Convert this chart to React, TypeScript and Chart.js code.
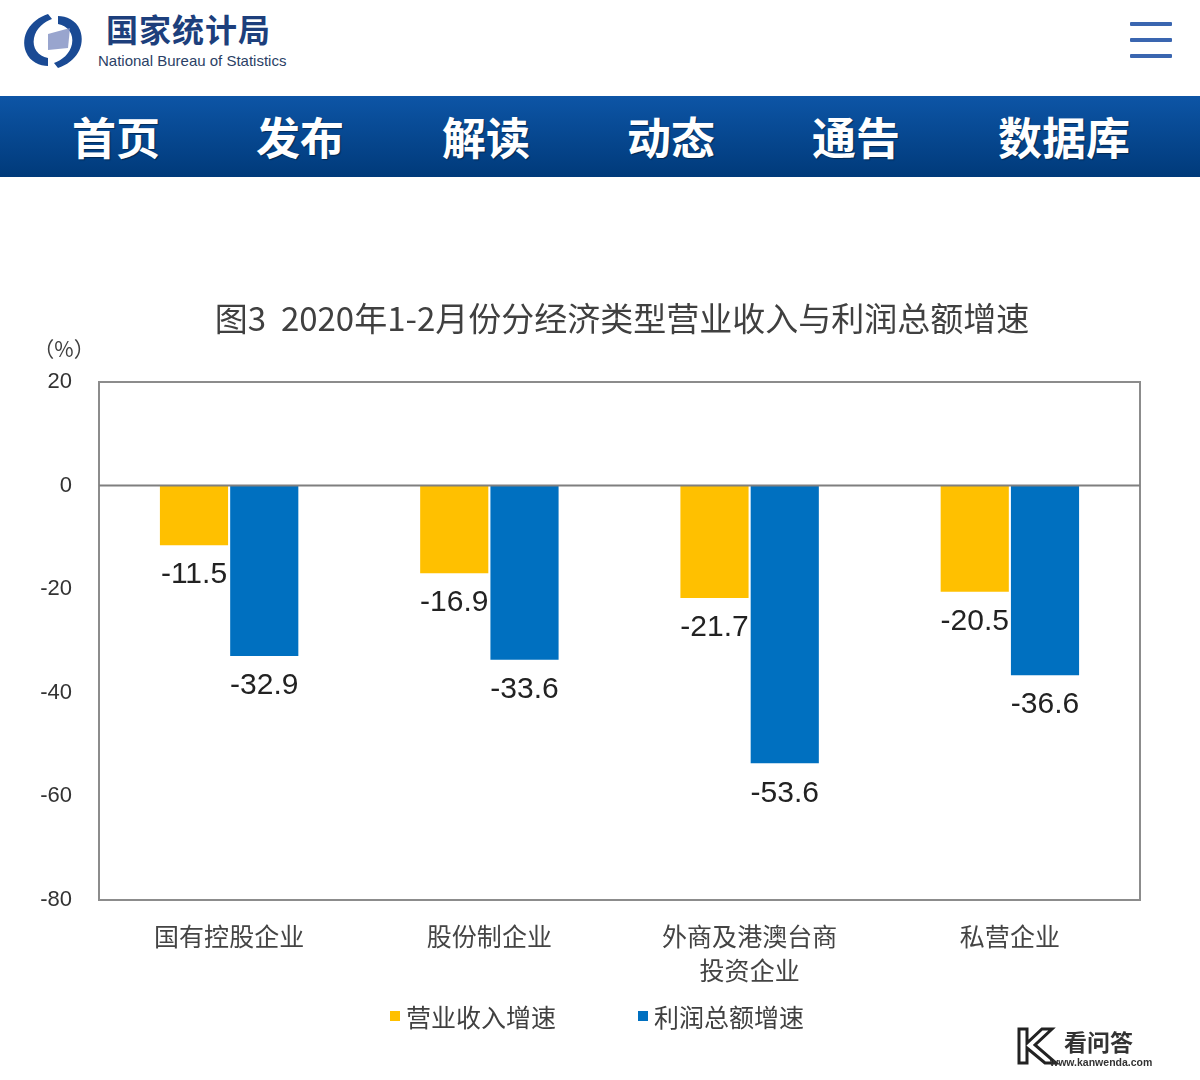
import React, { useEffect, useRef } from "react";
import { Chart, registerables } from "chart.js";

Chart.register(...registerables);

const chartTitle = "图3  2020年1-2月份分经济类型营业收入与利润总额增速";
const unitLabel = "（%）";
const categories: (string | string[])[] = [
  "国有控股企业",
  "股份制企业",
  ["外商及港澳台商", "投资企业"],
  "私营企业",
];
const seriesNames = ["营业收入增速", "利润总额增速"];
const revenueGrowth = [-11.5, -16.9, -21.7, -20.5];
const profitGrowth = [-32.9, -33.6, -53.6, -36.6];
const seriesColors = ["#FFC000", "#0070C0"];
const yMin = -80;
const yMax = 20;
const yStep = 20;
const navItems = ["首页", "发布", "解读", "动态", "通告", "数据库"];
const navCenters = [116, 300, 486, 671, 856, 1064];

const CJK = '"Noto Sans CJK SC", "Noto Sans", sans-serif';
const LAT = '"Liberation Sans", Arial, sans-serif';

const decorPlugin = {
  id: "decor",
  beforeDatasetsDraw(chart: any) {
    const { ctx, chartArea } = chart;
    ctx.save();
    ctx.strokeStyle = "#8c8c8c";
    ctx.lineWidth = 2;
    ctx.strokeRect(chartArea.left, chartArea.top, chartArea.right - chartArea.left, chartArea.bottom - chartArea.top);
    ctx.restore();
  },
  afterDatasetsDraw(chart: any) {
    const { ctx, chartArea, scales } = chart;
    ctx.save();
    // zero line
    const y0 = scales.y.getPixelForValue(0);
    ctx.strokeStyle = "#7f7f7f";
    ctx.lineWidth = 2;
    ctx.beginPath();
    ctx.moveTo(chartArea.left, y0);
    ctx.lineTo(chartArea.right, y0);
    ctx.stroke();
    // data labels
    ctx.fillStyle = "#222";
    ctx.font = `30px ${LAT}`;
    ctx.textAlign = "center";
    ctx.textBaseline = "middle";
    chart.data.datasets.forEach((ds: any, di: number) => {
      const meta = chart.getDatasetMeta(di);
      meta.data.forEach((el: any, i: number) => {
        const v = ds.data[i];
        const y = v < 0 ? el.y + 30 : el.y - 30;
        ctx.fillText(v.toFixed(1), el.x, y);
      });
    });
    // title
    ctx.fillStyle = "#404040";
    ctx.font = `33px ${CJK}`;
    ctx.fillText(chartTitle, 622, 28);
    // unit
    ctx.fillStyle = "#404040";
    ctx.font = `21px ${CJK}`;
    ctx.fillText(unitLabel, 64, 59);
    // legend
    ctx.font = `25px ${CJK}`;
    ctx.textAlign = "left";
    const legendX = [390, 638];
    chart.data.datasets.forEach((ds: any, di: number) => {
      const x = legendX[di];
      ctx.fillStyle = ds.backgroundColor;
      ctx.fillRect(x, 721, 10, 10);
      ctx.fillStyle = "#404040";
      ctx.fillText(ds.label, x + 16, 727);
    });
    ctx.restore();
  },
};

function ChartCanvas() {
  const ref = useRef<HTMLCanvasElement | null>(null);
  useEffect(() => {
    if (!ref.current) return;
    const chart = new Chart(ref.current, {
      type: "bar",
      data: {
        labels: categories,
        datasets: [
          { label: seriesNames[0], data: revenueGrowth, backgroundColor: seriesColors[0], barPercentage: 0.97, categoryPercentage: 0.54 },
          { label: seriesNames[1], data: profitGrowth, backgroundColor: seriesColors[1], barPercentage: 0.97, categoryPercentage: 0.54 },
        ],
      },
      options: {
        animation: false,
        responsive: false,
        devicePixelRatio: 1,
        layout: { padding: { top: 92, right: 60, left: 0, bottom: 0 } },
        plugins: { legend: { display: false }, title: { display: false }, tooltip: { enabled: false } },
        scales: {
          x: {
            grid: { display: false, drawTicks: false },
            border: { display: false },
            ticks: { color: "#444", font: { size: 25, family: CJK, lineHeight: 1.35 }, padding: 20, maxRotation: 0, autoSkip: false },
            afterFit: (s: any) => { s.height = 150; },
          },
          y: {
            min: yMin,
            max: yMax,
            grid: { display: false, drawTicks: false },
            border: { display: false },
            ticks: { stepSize: yStep, color: "#333", font: { size: 22, family: LAT }, padding: 27 },
            afterFit: (s: any) => { s.width = 99; },
          },
        },
      },
      plugins: [decorPlugin],
    });
    return () => chart.destroy();
  }, []);
  return <canvas ref={ref} width={1200} height={760} style={{ position: "absolute", left: 0, top: 290, width: 1200, height: 760 }} />;
}

export default function App() {
  useEffect(() => {
    document.body.style.margin = "0";
  }, []);
  return (
    <div style={{ position: "absolute", left: 0, top: 0, width: 1200, height: 1080, background: "#fff", overflow: "hidden" }}>
      {/* header */}
      <svg width={70} height={70} viewBox="0 0 70 70" style={{ position: "absolute", left: 18, top: 6 }}>
        <path d="M30 8 C12 14 2 30 8 46 C12 56 22 60 30 60 L30 52 C20 50 14 42 16 32 C18 22 26 16 34 13 Z" fill="#1a4a94" />
        <path d="M40 62 C58 56 68 40 62 24 C58 14 48 10 40 10 L40 18 C50 20 56 28 54 38 C52 48 44 54 36 57 Z" fill="#1a4a94" />
        <path d="M30 28 L52 22 L50 42 L30 44 Z" fill="#7f8fc2" opacity={0.8} />
      </svg>
      <div style={{ position: "absolute", left: 106, top: 8, fontFamily: CJK, fontWeight: 700, fontSize: 32, color: "#1d3f7c", lineHeight: "40px", letterSpacing: 1 }}>国家统计局</div>
      <div style={{ position: "absolute", left: 98, top: 51, fontFamily: LAT, fontSize: 15, color: "#2b3f66", lineHeight: "20px" }}>National Bureau of Statistics</div>
      {[24, 40, 56].map((y) => (
        <div key={y} style={{ position: "absolute", left: 1130, top: y - 2, width: 42, height: 4, background: "#3a66b0", borderRadius: 1 }} />
      ))}
      {/* nav */}
      <div style={{ position: "absolute", left: 0, top: 96, width: 1200, height: 81, background: "linear-gradient(#0d55a6, #003a7a)" }}>
        {navItems.map((t, i) => (
          <div key={t} style={{ position: "absolute", left: navCenters[i] - 100, width: 200, top: 0, height: 81, lineHeight: "81px", textAlign: "center", color: "#fff", fontFamily: CJK, fontWeight: 700, fontSize: 44, textShadow: "1px 1px 1px rgba(0,0,0,0.4)" }}>{t}</div>
        ))}
      </div>
      <ChartCanvas />
      {/* watermark */}
      <svg width={44} height={40} viewBox="0 0 44 40" style={{ position: "absolute", left: 1016, top: 1026 }}>
        <path d="M3 3 L11 3 L11 17 L26 3 L36 3 L19 19 L40 37 L29 37 L11 22 L11 37 L3 37 Z" fill="none" stroke="#222" strokeWidth={3} />
      </svg>
      <div style={{ position: "absolute", left: 1064, top: 1027, fontFamily: CJK, fontWeight: 700, fontSize: 23, color: "#333", lineHeight: "28px" }}>看问答</div>
      <div style={{ position: "absolute", left: 1050, top: 1056, fontFamily: LAT, fontWeight: 700, fontSize: 10.5, color: "#333", lineHeight: "12px" }}>www.kanwenda.com</div>
    </div>
  );
}
